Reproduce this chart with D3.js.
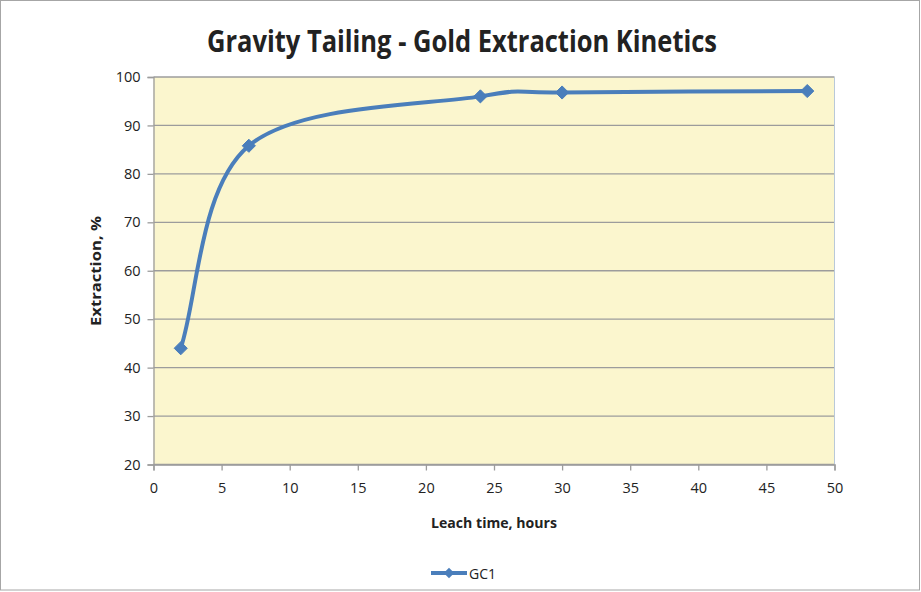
<!DOCTYPE html>
<html>
<head>
<meta charset="utf-8">
<script src="https://cdn.jsdelivr.net/npm/d3@7"></script>
<style>
  html, body { margin: 0; padding: 0; background: #fff; }
  svg { display: block; }
  text { font-family: "Open Sans", "Liberation Sans", sans-serif; fill: #222; }
</style>
</head>
<body>
<svg id="chart" width="921" height="592"></svg>
<script>
// Leach time (hours) and gold extraction (%) for sample GC1
const leachHours = [2, 7, 24, 30, 48];
const extractionGC1 = [44, 85.8, 96, 96.8, 97.1];
const xTicks = [0, 5, 10, 15, 20, 25, 30, 35, 40, 45, 50];
const yTicks = [20, 30, 40, 50, 60, 70, 80, 90, 100];
const seriesName = "GC1";

const svg = d3.select("#chart");
const W = 921, H = 592;
const plot = { left: 153.5, right: 834.5, top: 77, bottom: 464.5 };

// Spreadsheet-style smoothed line: cubic Bezier segments whose interior
// tangents follow the neighbouring points (1/6 factor) and whose end
// tangents point along the first/last chord.
function smoothCurve(context) {
  let pts;
  return {
    areaStart() {}, areaEnd() {},
    lineStart() { pts = []; },
    point(x, y) { pts.push([+x, +y]); },
    lineEnd() {
      const n = pts.length;
      if (!n) return;
      context.moveTo(pts[0][0], pts[0][1]);
      if (n === 1) return;
      const tan = pts.map((p, i) => {
        if (i === 0) return [(pts[1][0] - p[0]) / 4, (pts[1][1] - p[1]) / 4];
        if (i === n - 1) return [(p[0] - pts[i - 1][0]) / 4, (p[1] - pts[i - 1][1]) / 4];
        return [(pts[i + 1][0] - pts[i - 1][0]) / 6, (pts[i + 1][1] - pts[i - 1][1]) / 6];
      });
      for (let i = 0; i < n - 1; i++) {
        const a = pts[i], b = pts[i + 1];
        context.bezierCurveTo(
          a[0] + tan[i][0], a[1] + tan[i][1],
          b[0] - tan[i + 1][0], b[1] - tan[i + 1][1],
          b[0], b[1]);
      }
    }
  };
}

// outer chart frame
svg.append("rect")
  .attr("x", 0.5).attr("y", 0.5)
  .attr("width", W - 2).attr("height", H - 2.5)
  .attr("fill", "#fff").attr("stroke", "#a6a6a6").attr("stroke-width", 1);

const x = d3.scaleLinear().domain([0, 50]).range([plot.left, plot.right]);
const y = d3.scaleLinear().domain([20, 100]).range([plot.bottom, plot.top]);

// plot area background
svg.append("rect")
  .attr("x", plot.left).attr("y", plot.top)
  .attr("width", plot.right - plot.left).attr("height", plot.bottom - plot.top)
  .attr("fill", "#FBF6CE");

// horizontal gridlines
svg.append("g")
  .selectAll("line")
  .data(yTicks)
  .join("line")
  .attr("x1", plot.left).attr("x2", plot.right)
  .attr("y1", d => y(d)).attr("y2", d => y(d))
  .attr("stroke", "#9c9c9c").attr("stroke-width", 1.3);

// right edge of the plot area
svg.append("line")
  .attr("x1", plot.right).attr("x2", plot.right)
  .attr("y1", plot.top).attr("y2", plot.bottom)
  .attr("stroke", "#b9c9d9").attr("stroke-width", 1);

// y axis
const yAxis = svg.append("g")
  .attr("transform", `translate(${plot.left},0)`)
  .call(d3.axisLeft(y).tickValues(yTicks).tickSize(6).tickPadding(7).tickFormat(d3.format("d")));
yAxis.select(".domain").attr("stroke", "#9c9c9c").attr("stroke-width", 1.3);
yAxis.selectAll(".tick line").attr("stroke", "#9c9c9c").attr("stroke-width", 1.3);
yAxis.selectAll(".tick text").attr("font-size", 14.5).attr("fill", "#222")
  .attr("font-family", "'Open Sans', sans-serif");

// x axis
const xAxis = svg.append("g")
  .attr("transform", `translate(0,${plot.bottom})`)
  .call(d3.axisBottom(x).tickValues(xTicks).tickSize(6).tickPadding(12).tickFormat(d3.format("d")));
xAxis.select(".domain").attr("stroke", "#9c9c9c").attr("stroke-width", 1.3);
xAxis.selectAll(".tick line").attr("stroke", "#9c9c9c").attr("stroke-width", 1.3);
xAxis.selectAll(".tick text").attr("font-size", 14.5).attr("fill", "#222")
  .attr("font-family", "'Open Sans', sans-serif");

// smoothed series line
const pts = leachHours.map((h, i) => [h, extractionGC1[i]]);
const line = d3.line()
  .x(d => x(d[0])).y(d => y(d[1]))
  .curve(smoothCurve);
svg.append("path")
  .datum(pts)
  .attr("d", line)
  .attr("fill", "none")
  .attr("stroke", "#4A7EBB")
  .attr("stroke-width", 4)
  .attr("stroke-linejoin", "round")
  .attr("stroke-linecap", "round");

// diamond markers
const diamond = d3.symbol().type(d3.symbolDiamond2).size(110);
svg.append("g")
  .selectAll("path")
  .data(pts)
  .join("path")
  .attr("transform", d => `translate(${x(d[0])},${y(d[1])})`)
  .attr("d", diamond)
  .attr("fill", "#4A7EBB")
  .attr("stroke", "#4A7EBB")
  .attr("stroke-width", 1);

// title
svg.append("text")
  .attr("x", 462).attr("y", 52)
  .attr("text-anchor", "middle")
  .attr("font-size", 30).attr("font-weight", "bold")
  .attr("textLength", 510).attr("lengthAdjust", "spacingAndGlyphs")
  .text("Gravity Tailing - Gold Extraction Kinetics");

// axis titles
svg.append("text")
  .attr("x", 494).attr("y", 528)
  .attr("text-anchor", "middle")
  .attr("font-size", 14.5).attr("font-weight", "bold")
  .attr("textLength", 126).attr("lengthAdjust", "spacingAndGlyphs")
  .text("Leach time, hours");

svg.append("text")
  .attr("transform", "translate(101,271) rotate(-90)")
  .attr("text-anchor", "middle")
  .attr("font-size", 14.5).attr("font-weight", "bold")
  .attr("textLength", 110).attr("lengthAdjust", "spacingAndGlyphs")
  .text("Extraction, %");

// legend
const lg = svg.append("g").attr("transform", "translate(431,573)");
lg.append("line")
  .attr("x1", 0).attr("x2", 36).attr("y1", 0).attr("y2", 0)
  .attr("stroke", "#4A7EBB").attr("stroke-width", 4);
lg.append("path")
  .attr("transform", "translate(18,0)")
  .attr("d", d3.symbol().type(d3.symbolDiamond2).size(70))
  .attr("fill", "#4A7EBB");
lg.append("text")
  .attr("x", 38).attr("y", 5.5)
  .attr("font-size", 14).attr("fill", "#222")
  .text(seriesName);
</script>
</body>
</html>
